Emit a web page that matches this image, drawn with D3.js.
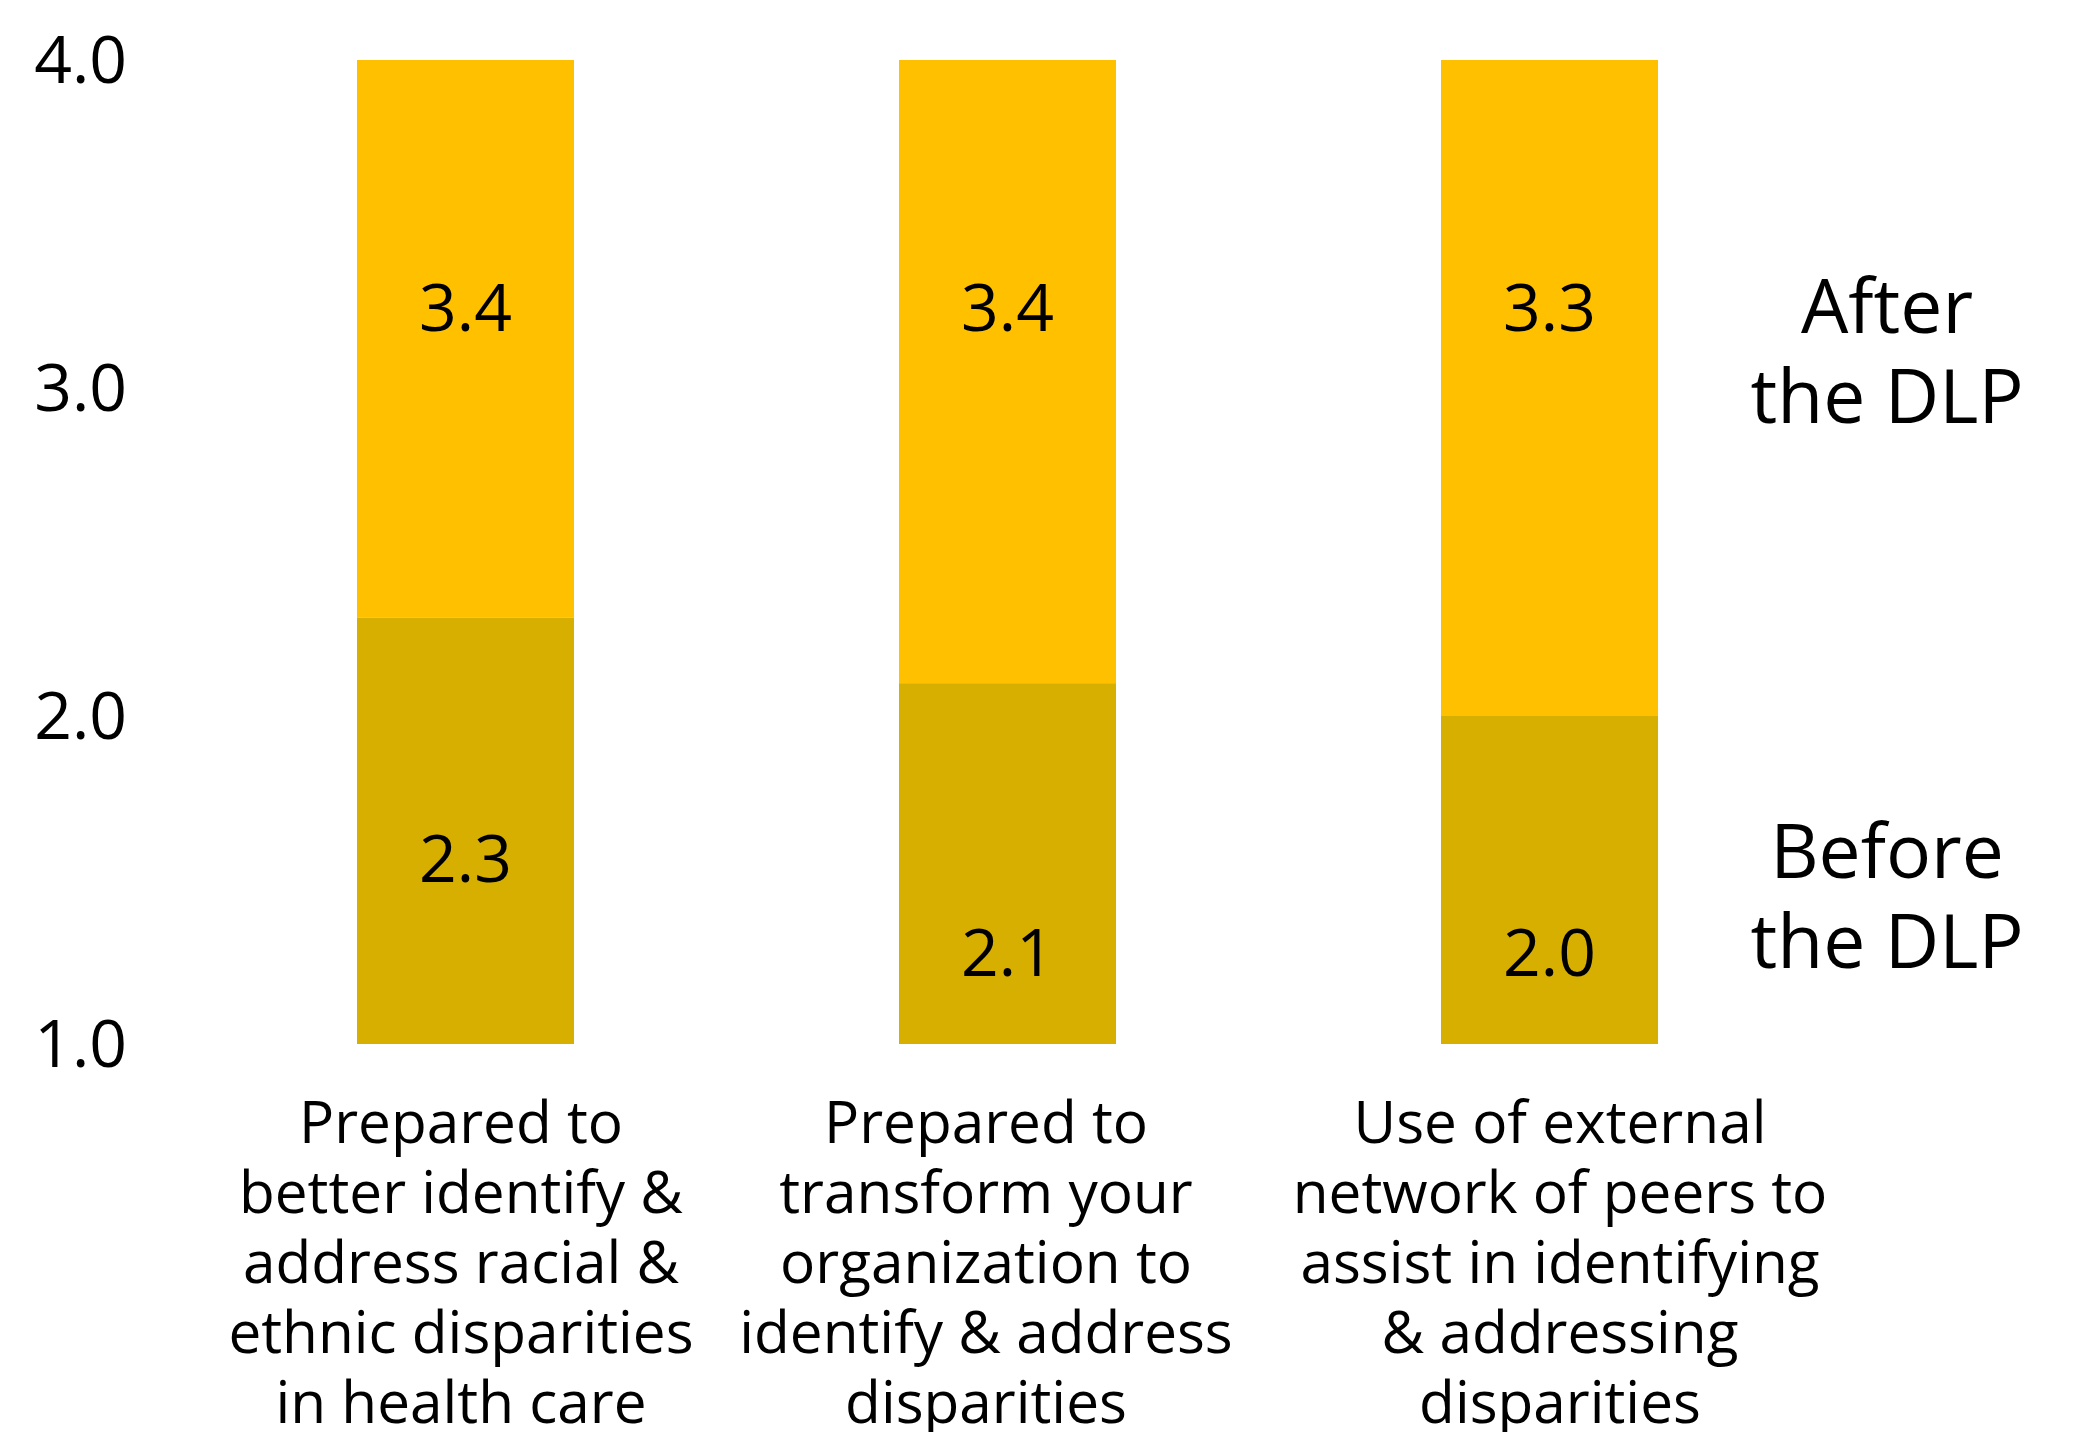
<!DOCTYPE html>
<html>
<head>
<meta charset="utf-8">
<script src="https://cdn.jsdelivr.net/npm/d3@7"></script>
<style>
  body { margin: 0; background: #fff; }
  text { font-family: "Open Sans", "Noto Sans", sans-serif; fill: #000; }
</style>
</head>
<body>
<div id="vis"></div>
<script>
// categories, one array of lines per bar
const categories = [
    ["Prepared to", "better identify &", "address racial &", "ethnic disparities", "in health care"],
    ["Prepared to", "transform your", "organization to", "identify & address", "disparities"],
    ["Use of external", "network of peers to", "assist in identifying", "& addressing", "disparities"]
];
const beforeValues = [2.3, 2.1, 2.0];
const afterValues = [3.4, 3.4, 3.3];
const yTicks = [1.0, 2.0, 3.0, 4.0];
const seriesNames = [["After", "the DLP"], ["Before", "the DLP"]];

// layout (not data) - where the number labels sit, in axis units
const afterLabelAt = [3.245, 3.245, 3.245];
const beforeLabelAt = [1.565, 1.277, 1.277];
const legendAt = [3.168, 1.506];
const catShift = [-4.5, -21.5, 10.5];

const colors = { after: "#FFC000", before: "#D6AF00" };

const width = 2075;
const height = 1432;

const svg = d3.select("#vis").append("svg")
    .attr("width", width)
    .attr("height", height)
    .attr("viewBox", [0, 0, width, height]);

const y = d3.scaleLinear()
    .domain([1, 4])
    .range([1044, 60]);

const x = d3.scaleBand()
    .domain(d3.range(categories.length))
    .range([194.5, 1820.5])
    .paddingInner(0.5996)
    .paddingOuter(0.2998);

// y tick labels only, no axis line
svg.append("g")
    .selectAll("text")
    .data(yTicks)
    .join("text")
    .attr("x", 127)
    .attr("y", d => y(d))
    .attr("dy", "0.35em")
    .attr("text-anchor", "end")
    .style("font-size", "66px")
    .text(d => d.toFixed(1));

const idx = d3.range(categories.length);

// yellow part: from before value up to top of scale
svg.append("g")
    .selectAll("rect")
    .data(idx)
    .join("rect")
    .attr("x", i => x(i))
    .attr("width", x.bandwidth())
    .attr("y", y(4))
    .attr("height", i => y(beforeValues[i]) - y(4))
    .attr("fill", colors.after);

// darker part: before
svg.append("g")
    .selectAll("rect")
    .data(idx)
    .join("rect")
    .attr("x", i => x(i))
    .attr("width", x.bandwidth())
    .attr("y", i => y(beforeValues[i]))
    .attr("height", i => y(1) - y(beforeValues[i]))
    .attr("fill", colors.before);

// value labels
svg.append("g")
    .selectAll("text")
    .data(idx)
    .join("text")
    .attr("x", i => x(i) + x.bandwidth() / 2)
    .attr("y", i => y(afterLabelAt[i]))
    .attr("dy", "0.35em")
    .attr("text-anchor", "middle")
    .style("font-size", "66px")
    .text(i => afterValues[i].toFixed(1));

svg.append("g")
    .selectAll("text")
    .data(idx)
    .join("text")
    .attr("x", i => x(i) + x.bandwidth() / 2)
    .attr("y", i => y(beforeLabelAt[i]))
    .attr("dy", "0.35em")
    .attr("text-anchor", "middle")
    .style("font-size", "66px")
    .text(i => beforeValues[i].toFixed(1));

// category labels under the bars
const cat = svg.append("g")
    .selectAll("text")
    .data(idx)
    .join("text")
    .attr("text-anchor", "middle")
    .style("font-size", "58.5px");

cat.selectAll("tspan")
    .data(i => categories[i].map(line => ({ i, line })))
    .join("tspan")
    .attr("x", d => x(d.i) + x.bandwidth() / 2 + catShift[d.i])
    .attr("y", (d, j) => 1143 + j * 70)
    .text(d => d.line);

// series labels on the right
const legend = svg.append("g")
    .selectAll("text")
    .data(seriesNames)
    .join("text")
    .attr("text-anchor", "middle")
    .style("font-size", "75px");

legend.selectAll("tspan")
    .data((d, k) => d.map(line => ({ k, line })))
    .join("tspan")
    .attr("x", 1887)
    .attr("y", (d, j) => y(legendAt[d.k]) + j * 90)
    .text(d => d.line);
</script>
</body>
</html>
